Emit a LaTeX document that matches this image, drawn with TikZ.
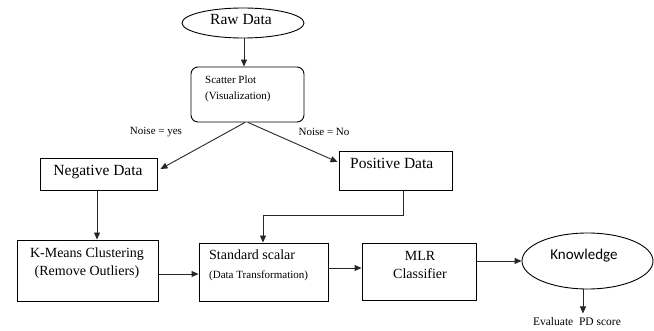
\documentclass[tikz,border=0pt]{standalone}
\usepackage{fontspec}
\setmainfont{Liberation Serif}
\newfontfamily\tnr{Liberation Serif}
\newfontfamily\calibri{Carlito}
\usetikzlibrary{arrows.meta,shapes.geometric}
\tikzset{
  box/.style={draw=black, line width=0.9pt, inner sep=0pt},
  oval/.style={draw=black, line width=0.9pt, ellipse, inner sep=0pt},
  txt/.style={inner sep=0pt, text=black},
  conn/.style={draw=black!85, line width=0.9pt, -{Triangle[length=7pt,width=6pt]}},
  plain/.style={draw=black!85, line width=0.9pt}
}
\begin{document}
\begin{tikzpicture}[x=1pt,y=-1pt]
\useasboundingbox (0,0) rectangle (654,331);
% shapes
\node[oval, minimum width=122pt, minimum height=30pt] (raw) at (243,23) {};
\node[txt, font=\tnr\fontsize{15.5}{18}\selectfont] (rawt) at (241,20) {Raw Data};
\node[box, rounded corners=7pt, minimum width=113pt, minimum height=55pt] (scat) at (247.5,94.5) {};
\node[txt, anchor=west, font=\tnr\fontsize{11}{13}\selectfont] (scat1) at (205,80) {Scatter Plot};
\node[txt, anchor=west, font=\tnr\fontsize{11}{13}\selectfont] (scat2) at (205,97) {(Visualization)};
\node[box, minimum width=117pt, minimum height=32pt] (neg) at (98.5,174) {};
\node[txt, font=\tnr\fontsize{15.5}{18}\selectfont] (negt) at (98,172) {Negative Data};
\node[box, minimum width=113pt, minimum height=39pt] (pos) at (395.5,170.5) {};
\node[txt, anchor=west, font=\tnr\fontsize{15.5}{18}\selectfont] (post) at (350,163) {Positive Data};
\node[box, minimum width=141pt, minimum height=61pt] (km) at (87.5,270.5) {};
\node[txt, font=\tnr\fontsize{14}{16}\selectfont] (km1) at (87,254) {K-Means Clustering};
\node[txt, font=\tnr\fontsize{14}{16}\selectfont] (km2) at (87,272) {(Remove Outliers)};
\node[box, minimum width=129pt, minimum height=58pt] (std) at (263.5,272) {};
\node[txt, anchor=west, font=\tnr\fontsize{14}{16}\selectfont] (std1) at (209,255) {Standard scalar};
\node[txt, anchor=west, font=\tnr\fontsize{11}{13}\selectfont] (std2) at (209,276) {(Data Transformation)};
\node[box, minimum width=114pt, minimum height=57pt] (mlr) at (419,271.5) {};
\node[txt, font=\tnr\fontsize{14}{16}\selectfont] (mlr1) at (420,256) {MLR};
\node[txt, font=\tnr\fontsize{14}{16}\selectfont] (mlr2) at (420,274) {Classifier};
\node[oval, minimum width=131pt, minimum height=56pt] (know) at (587.5,261) {};
\node[txt, font=\calibri\fontsize{15}{18}\selectfont] (knowt) at (584,256) {Knowledge};
\node[txt, font=\tnr\fontsize{11.5}{13}\selectfont] (eval) at (577,322) {Evaluate\ \ PD score};
\node[txt, font=\tnr\fontsize{11}{13}\selectfont] (nyes) at (156,132) {Noise = yes};
\node[txt, font=\tnr\fontsize{11}{13}\selectfont] (nno) at (324,132) {Noise = No};
\coordinate (pdown) at (403,215);
\coordinate (pleft) at (263,215);
% connectors
\draw[conn] ([xshift=1pt]raw.south) -- ([xshift=-3.5pt]scat.north);
\draw[conn] ([xshift=-2.5pt]scat.south) -- ([xshift=3pt,yshift=5pt]neg.east);
\draw[conn] ([xshift=0.5pt]scat.south) -- ([xshift=-1pt,yshift=8.5pt]pos.west);
\draw[conn] ([xshift=-1.5pt]neg.south) -- ([xshift=9.5pt]km.north);
\draw[plain] (pos.south -| pdown) -- (pdown) -- (pleft);
\draw[conn] (pleft) -- (pleft |- std.north);
\draw[conn] ([yshift=-3.5pt]km.east) -- ([yshift=-2pt]std.west);
\draw[conn] ([yshift=4pt]std.east) -- ([yshift=3.5pt]mlr.west);
\draw[conn] ([yshift=10.5pt]mlr.east) -- ([yshift=0pt]know.west);
\draw[conn] ([xshift=-4.5pt]know.south) -- ([xshift=-4.5pt,yshift=-24pt]know.south);
\end{tikzpicture}
\end{document}
